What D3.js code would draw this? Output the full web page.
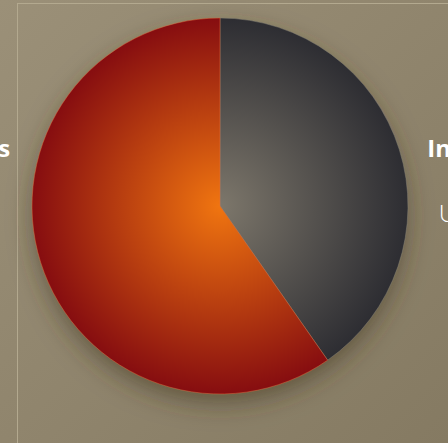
<!DOCTYPE html>
<html>
<head>
<meta charset="utf-8">
<script src="https://cdn.jsdelivr.net/npm/d3@7"></script>
<style>
  body { margin: 0; background: #938871; overflow: hidden; }
  svg { display: block; }
</style>
</head>
<body>
<svg id="chart"></svg>
<script>
// slices, clockwise from 12 o'clock
const categories = ["Industry", "Households"];
const subLabels = ["US$ 40", "US$ 60"];
const values = [40.3, 59.7];

function main() {
    let width = 448, height = 443;
    let svg = d3.select("#chart").attr("width", width).attr("height", height);
    let defs = svg.append("defs");

    // background
    let bg = defs.append("linearGradient").attr("id", "bg")
        .attr("x1", 0).attr("y1", 0).attr("x2", 1).attr("y2", 1);
    bg.append("stop").attr("offset", "0%").attr("stop-color", "#9b9078");
    bg.append("stop").attr("offset", "100%").attr("stop-color", "#857a62");
    svg.append("rect").attr("width", width).attr("height", height).attr("fill", "url(#bg)");

    // frame
    svg.append("rect")
        .attr("x", 17.5).attr("y", 3.5)
        .attr("width", 500).attr("height", 500)
        .attr("fill", "none")
        .attr("stroke", "#b3a98f")
        .attr("stroke-width", 1);

    let cx = 220, cy = 206, r = 188;

    // slice gradients
    let gradColors = [["#7d776b", "#2d2d32"], ["#f07510", "#860d10"]];
    gradColors.forEach(function(c, i) {
        let g = defs.append("radialGradient").attr("id", "slice" + i)
            .attr("gradientUnits", "userSpaceOnUse")
            .attr("cx", 0).attr("cy", 0).attr("r", r);
        g.append("stop").attr("offset", "0%").attr("stop-color", c[0]);
        g.append("stop").attr("offset", "100%").attr("stop-color", c[1]);
    });

    let shadow = defs.append("filter").attr("id", "shadow")
        .attr("x", "-30%").attr("y", "-30%").attr("width", "160%").attr("height", "160%");
    shadow.append("feDropShadow")
        .attr("dx", 0).attr("dy", 10).attr("stdDeviation", 12)
        .attr("flood-color", "#3e3422").attr("flood-opacity", 0.55);

    let pie = d3.pie().sort(null).value(d => d);
    let arc = d3.arc().innerRadius(0).outerRadius(r);

    let g = svg.append("g").attr("transform", `translate(${cx},${cy})`);
    g.append("circle").attr("r", r - 1).attr("fill", "#555").attr("filter", "url(#shadow)");

    g.selectAll("path")
        .data(pie(values))
        .join("path")
        .attr("d", arc)
        .attr("fill", (d, i) => `url(#slice${i})`)
        .attr("stroke", (d, i) => i === 0 ? "#8a8478" : "#e07040")
        .attr("stroke-opacity", 0.6)
        .attr("stroke-width", 0.8);

    // labels: right side for first slice, left for second
    let labelX = [cx + 258, cx - 280];
    let lab = svg.selectAll(".lab")
        .data(categories)
        .join("g")
        .attr("class", "lab")
        .attr("transform", (d, i) => `translate(${labelX[i]},0)`);
    lab.append("text")
        .text(d => d)
        .attr("y", 157)
        .attr("text-anchor", "middle")
        .attr("font-family", "Open Sans")
        .attr("font-weight", "bold")
        .attr("font-size", 24)
        .attr("fill", "#ffffff");
    lab.append("text")
        .text((d, i) => subLabels[i])
        .attr("y", 222)
        .attr("text-anchor", "middle")
        .attr("font-family", "Lato")
        .attr("font-weight", 300)
        .attr("font-size", 24)
        .attr("fill", "#ffffff");
}

main();
</script>
</body>
</html>
